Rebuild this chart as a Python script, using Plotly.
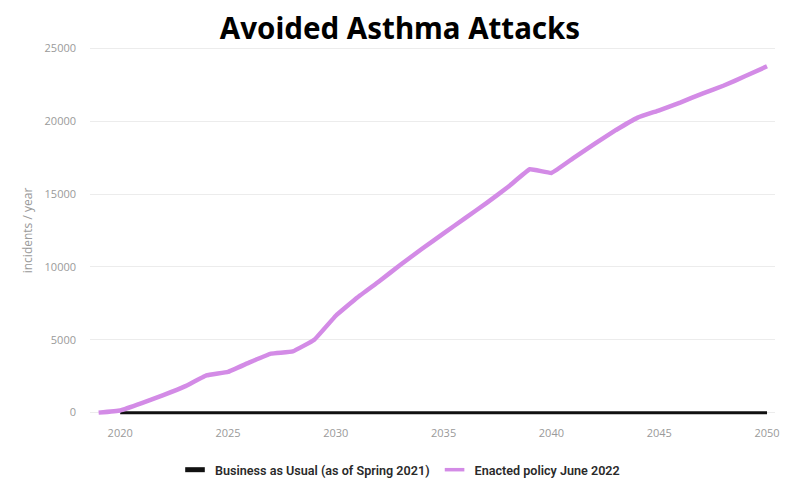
import plotly.graph_objects as go

years = list(range(2019, 2051))
enacted = [0, 150, 650, 1200, 1800, 2550, 2800, 3450, 4050, 4200, 5000, 6650,
           7900, 9000, 10150, 11250, 12300, 13350, 14400, 15500, 16700, 16450,
           17450, 18450, 19400, 20250, 20750, 21300, 21900, 22450, 23100, 23770]
bau_years = list(range(2020, 2051))
bau = [0] * len(bau_years)

title_text = "Avoided Asthma Attacks"
y_title = "incidents / year"
name_bau = "Business as Usual (as of Spring 2021)"
name_enacted = "Enacted policy June 2022"
x_ticks = [2020, 2025, 2030, 2035, 2040, 2045, 2050]
y_ticks = [0, 5000, 10000, 15000, 20000, 25000]
y_tick_labels = ["0", "5000", "10000", "15000", "20000", "25000"]

purple = "#d38be6"

# page has an 8px body margin, so the figure is 8px smaller than the window
W, H = 789, 474

fig = go.Figure()
fig.add_trace(go.Scatter(x=bau_years, y=bau, mode="lines", showlegend=False,
                         line=dict(color="#111111", width=3)))
fig.add_trace(go.Scatter(x=years, y=enacted, mode="lines", showlegend=False,
                         line=dict(color=purple, width=4.5, shape="spline", smoothing=0.25)))
# legend entries
fig.add_trace(go.Scatter(x=[None], y=[None], mode="markers", name=name_bau,
                         marker=dict(symbol="line-ew", size=14,
                                     line=dict(color="#111111", width=5))))
fig.add_trace(go.Scatter(x=[None], y=[None], mode="markers", name=name_enacted,
                         marker=dict(symbol="line-ew", size=14,
                                     line=dict(color=purple, width=3.5))))

fig.update_layout(
    width=W, height=H,
    margin=dict(l=82, r=22, t=36, b=65, autoexpand=False),
    paper_bgcolor="white", plot_bgcolor="white",
    title=dict(text="<b>" + title_text + "</b>", x=0.4968, xanchor="center",
               y=1 - 20.5 / H, yanchor="middle", yref="container",
               font=dict(family="Noto Sans", size=29.5, color="black")),
    legend=dict(orientation="h", x=392 / W, xanchor="center", xref="container",
                y=1 - 462 / H, yref="container", yanchor="middle",
                font=dict(family="Roboto", size=12.6, color="#2a2a2a", weight=600),
                itemwidth=30, tracegroupgap=0),
    font=dict(family="Open Sans"),
)
fig.update_xaxes(range=[2018.6, 2050.37], tickvals=x_ticks, showgrid=False,
                 zeroline=False, showline=False, automargin=False,
                 tickfont=dict(family="Open Sans", size=11, color="#9a9a9a"),
                 ticklabelstandoff=8)
fig.update_yaxes(range=[-300, 25300], tickvals=y_ticks, ticktext=y_tick_labels,
                 showgrid=True, automargin=False,
                 gridcolor="#ececec", gridwidth=1, zeroline=False, showline=False,
                 tickfont=dict(family="Open Sans", size=11, color="#9a9a9a"),
                 ticklabelstandoff=13,
                 title=dict(text=y_title, standoff=9,
                            font=dict(family="Open Sans", size=12, color="#9a9a9a")))

fig.write_html("out.html")
